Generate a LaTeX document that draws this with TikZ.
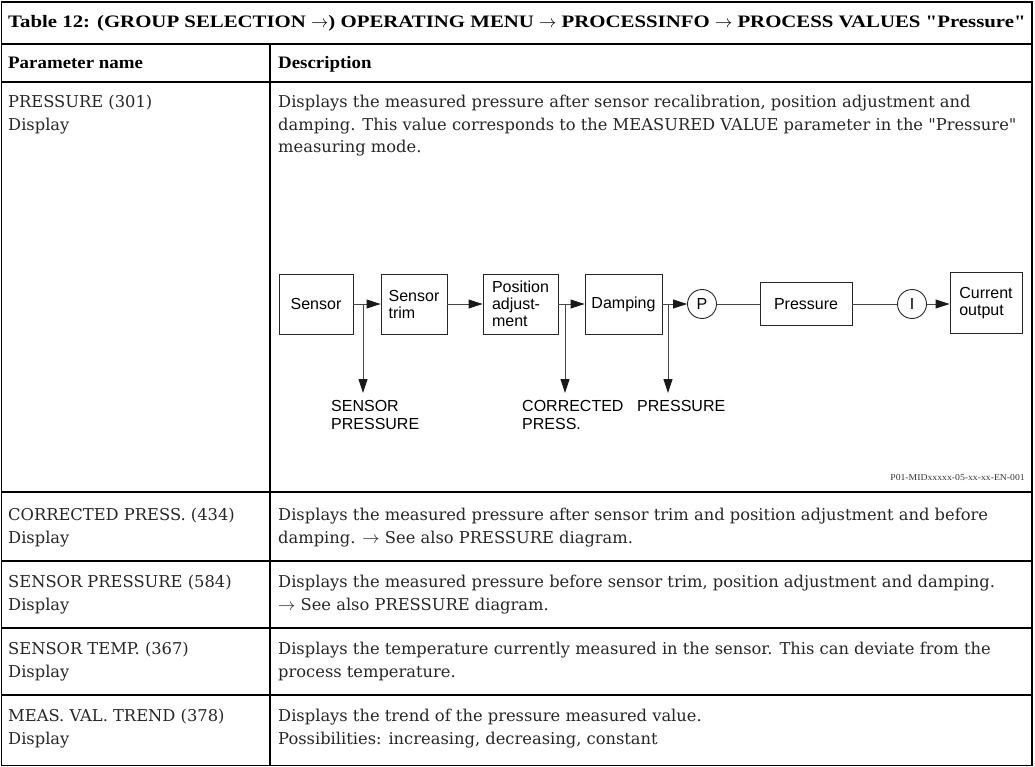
\documentclass[tikz,border=0pt]{standalone}
\usepackage{fontspec}
\setmainfont{DejaVu Serif}[Ligatures=TeXOff]
\newfontfamily\titlefont{Liberation Serif}[FakeStretch=1.19, Ligatures=TeXOff]
\newfontfamily\headfont{Liberation Serif}[FakeStretch=1.08, Ligatures=TeXOff]
\newfontfamily\diagfont{Liberation Sans}
\usetikzlibrary{arrows.meta}

\tikzset{
  rule/.style={line width=1.3pt, draw=black},
  cell/.style={inner sep=0pt, anchor=base west, font=\fontsize{16.3}{22}\selectfont, text=black!85},
  head/.style={cell, text=black, font=\headfont\bfseries\fontsize{17.5}{22}\selectfont},
  tithead/.style={cell, text=black, font=\titlefont\bfseries\fontsize{17.5}{22}\selectfont},
  blk/.style={draw=black!85, line width=0.9pt, minimum height=60pt, inner sep=0pt,
              font=\diagfont\fontsize{16}{17}\selectfont, align=left},
  ring/.style={circle, draw=black!85, line width=0.9pt, minimum size=29pt, inner sep=0pt,
               font=\diagfont\fontsize{16}{17}\selectfont},
  tag/.style={inner sep=0pt, anchor=north west, align=left,
              font=\diagfont\fontsize{16}{17.7}\selectfont},
  flow/.style={draw=black!72, line width=0.9pt},
  arr/.style={flow, -{Triangle[length=14pt,width=9pt,color=black!90]}},
  code/.style={inner sep=0pt, anchor=base east, font=\headfont\fontsize{9}{10}\selectfont, text=black!80},
}

\begin{document}
\begin{tikzpicture}[x=1pt,y=-1pt]
\useasboundingbox (0,0) rectangle (1035,767);

% table frame and rules
\draw[rule] (1.5,2) rectangle (1032,765.5);
\foreach \yy in {44,82,492,561,628,695}
  \draw[rule] (1.5,\yy) -- (1032,\yy);
\draw[rule] (270,44) -- (270,765.5);

% title and column heads
\node[tithead] (title) at (8,28) {Table 12: (GROUP SELECTION $\rightarrow$) OPERATING MENU $\rightarrow$ PROCESSINFO $\rightarrow$ PROCESS VALUES "Pressure"};
\node[head] (hname) at (8,69) {Parameter name};
\node[head] (hdesc) at (278,69) {Description};

% row: PRESSURE
\node[cell] (n1a) at (8,108) {PRESSURE (301)};
\node[cell] (n1b) at (8,130.5) {Display};
\node[cell] (d1a) at (278,108) {Displays the measured pressure after sensor recalibration, position adjustment and};
\node[cell] (d1b) at (278,130.5) {damping. This value corresponds to the MEASURED VALUE parameter in the "Pressure"};
\node[cell] (d1c) at (278,153) {measuring mode.};

% signal chain
\node[blk, minimum width=74pt] (sensor) at (316,304) {Sensor};
\node[blk, minimum width=66pt] (strim)  at (414,304) {Sensor\\trim};
\node[blk, minimum width=75pt] (posadj) at (520.5,304) {Position\\adjust-\\ment};
\node[blk, minimum width=77pt] (damp)   at (623.5,304) {Damping};
\node[ring] (pc) at (702,304) {P};
\node[blk, minimum width=92pt, minimum height=43pt] (pres) at (806,304) {Pressure};
\node[ring] (ic) at (912,304) {I};
\node[blk, minimum width=72pt, minimum height=61pt] (cout) at (986,303) {Current\\output};

\draw[arr] (sensor.east) -- (strim.west);
\draw[arr] (strim.east) -- (posadj.west);
\draw[arr] (posadj.east) -- (damp.west);
\draw[arr] (damp.east) -- (pc.west);
\draw[flow] (pc.east) -- (pres.west);
\draw[flow] (pres.east) -- (ic.west);
\draw[arr] (ic.east) -- (cout.west |- ic.east);

% taps
\node[tag] (tsp) at (331,400) {SENSOR\\PRESSURE};
\node[tag] (tcp) at (522,400) {CORRECTED\\PRESS.};
\node[tag] (tpr) at (637,400) {PRESSURE};
\coordinate (j1) at (363,304);
\coordinate (j2) at (565,304);
\coordinate (j3) at (668,304);
\coordinate (e1) at (363,393);
\coordinate (e2) at (565,393);
\coordinate (e3) at (668,393);
\draw[arr] (j1) -- (e1);
\draw[arr] (j2) -- (e2);
\draw[arr] (j3) -- (e3);

\node[code] (fig) at (1025,480) {P01-MIDxxxxx-05-xx-xx-EN-001};

% row: CORRECTED PRESS.
\node[cell] (n2a) at (8,520) {CORRECTED PRESS. (434)};
\node[cell] (n2b) at (8,543) {Display};
\node[cell] (d2a) at (278,520) {Displays the measured pressure after sensor trim and position adjustment and before};
\node[cell] (d2b) at (278,543) {damping. $\rightarrow$ See also PRESSURE diagram.};

% row: SENSOR PRESSURE
\node[cell] (n3a) at (8,587) {SENSOR PRESSURE (584)};
\node[cell] (n3b) at (8,610) {Display};
\node[cell] (d3a) at (278,587) {Displays the measured pressure before sensor trim, position adjustment and damping.};
\node[cell] (d3b) at (278,610) {$\rightarrow$ See also PRESSURE diagram.};

% row: SENSOR TEMP.
\node[cell] (n4a) at (8,654) {SENSOR TEMP. (367)};
\node[cell] (n4b) at (8,677) {Display};
\node[cell] (d4a) at (278,654) {Displays the temperature currently measured in the sensor. This can deviate from the};
\node[cell] (d4b) at (278,677) {process temperature.};

% row: MEAS. VAL. TREND
\node[cell] (n5a) at (8,721) {MEAS. VAL. TREND (378)};
\node[cell] (n5b) at (8,744) {Display};
\node[cell] (d5a) at (278,721) {Displays the trend of the pressure measured value.};
\node[cell] (d5b) at (278,744) {Possibilities: increasing, decreasing, constant};
\end{tikzpicture}
\end{document}
